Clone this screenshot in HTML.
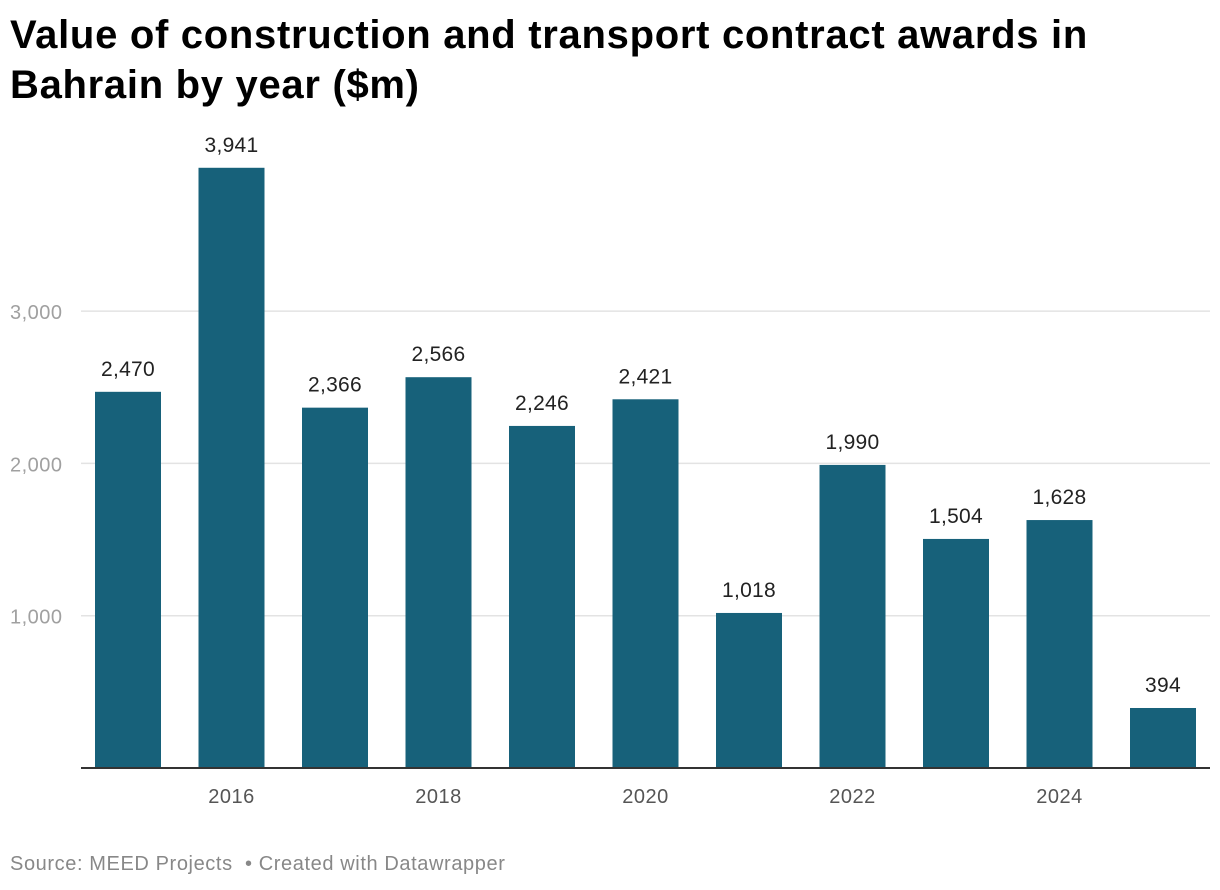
<!DOCTYPE html>
<html><head><meta charset="utf-8">
<style>
html,body{margin:0;padding:0;background:#fff;width:1220px;height:890px;overflow:hidden;font-family:"Liberation Sans",Arial,sans-serif;}
h1{position:absolute;left:10px;top:10px;margin:0;font-size:40px;line-height:50px;font-weight:bold;color:#000;letter-spacing:0.7px;white-space:nowrap;}
#foot{position:absolute;left:10px;top:853px;font-size:20px;color:#888;letter-spacing:0.6px;white-space:nowrap;}
svg{position:absolute;left:0;top:0;}
</style></head><body>
<h1>Value of construction and transport contract awards in<br>Bahrain by year ($m)</h1>
<svg id="chart" width="1220" height="890"></svg>
<div id="foot">Source: MEED Projects &nbsp;• Created with Datawrapper</div>
<script>
const years = [2015,2016,2017,2018,2019,2020,2021,2022,2023,2024,2025];
const values = [2470,3941,2366,2566,2246,2421,1018,1990,1504,1628,394];
const labels = ["2,470","3,941","2,366","2,566","2,246","2,421","1,018","1,990","1,504","1,628","394"];
const yTicks = [1000,2000,3000];
const yTickLabels = ["1,000","2,000","3,000"];
const xTickYears = [2016,2018,2020,2022,2024];

const svg = document.getElementById('chart');
const NS = 'http://www.w3.org/2000/svg';
const baseY = 768, pxPer = 0.1523;
const y = v => baseY - v * pxPer;
const x0 = 128, step = 103.5, bw = 66;
const xc = i => x0 + step * i;
function mk(tag, attrs, text){
  const e = document.createElementNS(NS, tag);
  for (const k in attrs) e.setAttribute(k, attrs[k]);
  if (text !== undefined) e.textContent = text;
  svg.appendChild(e); return e;
}
yTicks.forEach((t, i) => {
  const l = mk('line', {x1:81, x2:1210, y1:y(t), y2:y(t), stroke:'#e3e3e3', 'stroke-width':1.5});
  
  
  const tx = mk('text', {x:10, y:y(t)+8, 'font-size':20, fill:'#a0a0a0', 'letter-spacing':0.5, 'font-family':'Liberation Sans, sans-serif'}, yTickLabels[i]);
  
  
});
values.forEach((v, i) => {
  const r = mk('rect', {x:xc(i)-bw/2, y:y(v), width:bw, height:baseY-y(v), fill:'#17617a'});
  
  
  const t = mk('text', {x:xc(i), y:y(v)-16, 'font-size':21, fill:'#222', 'text-anchor':'middle', 'letter-spacing':0.3, 'font-family':'Liberation Sans, sans-serif'}, labels[i]);
  
  
});
const base = mk('line', {x1:81, x2:1210, y1:baseY, y2:baseY, stroke:'#333', 'stroke-width':2});


xTickYears.forEach(yr => {
  const i = years.indexOf(yr);
  const t = mk('text', {x:xc(i), y:803, 'font-size':20, fill:'#555', 'text-anchor':'middle', 'letter-spacing':0.5, 'font-family':'Liberation Sans, sans-serif'}, String(yr));
  
  
});
</script>
</body></html>
